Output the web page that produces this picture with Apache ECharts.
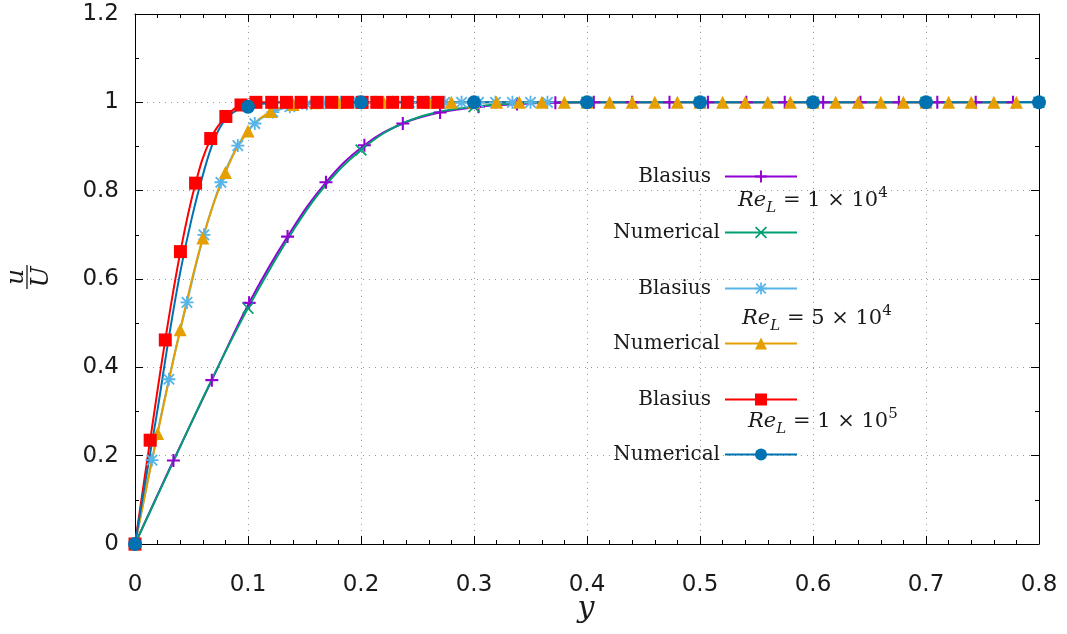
<!DOCTYPE html>
<html>
<head>
<meta charset="utf-8">
<script src="https://cdn.jsdelivr.net/npm/echarts@6/dist/echarts.min.js"></script>
<style>
html, body { margin: 0; padding: 0; background: #fff; }
#chart { width: 1067px; height: 634px; }
</style>
</head>
<body>
<div id="chart"></div>
<script>
// values: y (distance) and u/U

// Blasius, Re_L = 1e4
var blasius1X = [0, 0.034, 0.068, 0.101, 0.135, 0.169, 0.203, 0.237, 0.270, 0.304, 0.338, 0.372,
                 0.406, 0.440, 0.473, 0.507, 0.541, 0.575, 0.609, 0.642, 0.676, 0.710, 0.744, 0.777];
var blasius1Y = [0, 0.189, 0.371, 0.546, 0.696, 0.819, 0.903, 0.952, 0.977, 0.990, 0.996, 0.999,
                 1, 1, 1, 1, 1, 1, 1, 1, 1, 1, 1, 1];

// Numerical, Re_L = 1e4
var numeric1X = [0, 0.02, 0.04, 0.06, 0.08, 0.1, 0.12, 0.14, 0.16, 0.18, 0.2, 0.22, 0.24, 0.26,
                 0.28, 0.3, 0.32, 0.34, 0.36, 0.4, 0.5, 0.6, 0.7, 0.8];
var numeric1Y = [0, 0.11, 0.22, 0.33, 0.435, 0.534, 0.625, 0.71, 0.785, 0.845, 0.892, 0.93, 0.956, 0.973,
                 0.984, 0.99, 0.995, 0.998, 0.999, 1, 1, 1, 1, 1];

// Blasius, Re_L = 5e4
var blasius5X = [0, 0.015, 0.030, 0.046, 0.061, 0.076, 0.091, 0.106, 0.122, 0.137, 0.152, 0.167, 0.182,
                 0.198, 0.213, 0.228, 0.243, 0.258, 0.274, 0.289, 0.304, 0.319, 0.334, 0.350, 0.365];
var blasius5Y = [0, 0.19, 0.373, 0.547, 0.70, 0.819, 0.902, 0.952, 0.978, 0.99, 0.996, 0.999, 1,
                 1, 1, 1, 1, 1, 1, 1, 1, 1, 1, 1, 1];

// Numerical, Re_L = 5e4
var numeric5X = [0, 0.02, 0.04, 0.06, 0.08, 0.1, 0.12, 0.14, 0.16, 0.18, 0.2, 0.22, 0.24, 0.26, 0.28,
                 0.3, 0.32, 0.34, 0.36, 0.38, 0.4, 0.42, 0.44, 0.46, 0.48, 0.5, 0.52, 0.54, 0.56, 0.58,
                 0.6, 0.62, 0.64, 0.66, 0.68, 0.7, 0.72, 0.74, 0.76, 0.78];
var numeric5Y = [0, 0.25, 0.485, 0.693, 0.841, 0.935, 0.979, 0.995, 0.999, 1, 1, 1, 1, 1, 1,
                 1, 1, 1, 1, 1, 1, 1, 1, 1, 1, 1, 1, 1, 1, 1,
                 1, 1, 1, 1, 1, 1, 1, 1, 1, 1];

// Blasius, Re_L = 1e5
var blasius10X = [0, 0.0134, 0.0268, 0.0402, 0.0536, 0.067, 0.0804, 0.0938, 0.107, 0.121, 0.134,
                  0.147, 0.161, 0.174, 0.188, 0.201, 0.214, 0.228, 0.241, 0.255, 0.268];
var blasius10Y = [0, 0.235, 0.462, 0.662, 0.817, 0.918, 0.968, 0.994, 1, 1, 1,
                  1, 1, 1, 1, 1, 1, 1, 1, 1, 1];

// Numerical, Re_L = 1e5
var numeric10X = [0, 0.01, 0.02, 0.03, 0.04, 0.05, 0.06, 0.07, 0.08, 0.09, 0.1, 0.11, 0.12, 0.13,
                  0.15, 0.2, 0.3, 0.4, 0.5, 0.6, 0.7, 0.8];
var numeric10Y = [0, 0.154, 0.305, 0.468, 0.615, 0.735, 0.835, 0.915, 0.962, 0.982, 0.99, 0.996, 0.998, 1,
                  1, 1, 1, 1, 1, 1, 1, 1];

// points of the numerical curves that carry a marker
var numericMarkX = [0, 0.1, 0.2, 0.3, 0.4, 0.5, 0.6, 0.7, 0.8];

var legendTexts = ['Blasius', 'Numerical', 'Blasius', 'Numerical', 'Blasius', 'Numerical'];
var reMantissa = ['1', '5', '1'];
var reExponent = ['4', '4', '5'];

var PLUS = 'path://M0,4.2H10V5.8H0ZM4.2,0H5.8V10H4.2Z';
var CROSS = 'path://M0,1L1,0L10,9L9,10ZM9,0L10,1L1,10L0,9Z';
var STAR = 'path://M0,4.3H10V5.7H0ZM4.3,0H5.7V10H4.3ZM0.5,1.5L1.5,0.5L9.5,8.5L8.5,9.5ZM8.5,0.5L9.5,1.5L1.5,9.5L0.5,8.5Z';

var serif = 'DejaVu Serif';
var textColor = '#1a1a1a';

function makeData(xs, ys, marks) {
    return xs.map(function (x, i) {
        var item = { value: [x, ys[i]] };
        if (marks && marks.indexOf(x) < 0) item.symbol = 'none';
        return item;
    });
}

function curve(name, color, symbol, size, xs, ys, marks) {
    return {
        name: name,
        type: 'line',
        data: makeData(xs, ys, marks),
        smooth: 0.4,
        symbol: symbol,
        symbolSize: size,
        showAllSymbol: true,
        clip: false,
        lineStyle: { color: color, width: 2 },
        itemStyle: { color: color, borderWidth: 0 },
        emphasis: { disabled: true }
    };
}

var series = [
    curve('Blasius 1e4', '#9400d3', PLUS, 13, blasius1X, blasius1Y),
    curve('Numerical 1e4', '#009e73', CROSS, 12, numeric1X, numeric1Y, numericMarkX),
    curve('Blasius 5e4', '#56b4e9', STAR, 13, blasius5X, blasius5Y),
    curve('Numerical 5e4', '#e69f00', 'triangle', 13, numeric5X, numeric5Y),
    curve('Blasius 1e5', '#ff0000', 'rect', 13, blasius10X, blasius10Y),
    curve('Numerical 1e5', '#0072b2', 'circle', 14, numeric10X, numeric10Y, numericMarkX)
];

var legendRows = [174, 230, 286, 341, 397, 452];
var legends = series.map(function (s, i) {
    return {
        data: [s.name],
        formatter: legendTexts[i],
        right: 269,
        top: legendRows[i] - 7.5,
        align: 'right',
        padding: 0,
        itemWidth: 72,
        itemHeight: 15,
        selectedMode: false,
        textStyle: {
            fontFamily: serif, fontSize: 20, color: textColor, lineHeight: 15,
            padding: [0, i % 2 ? 0 : 9, 0, 0]
        }
    };
});

var reRows = [{ x: 738, y: 201 }, { x: 742, y: 319 }, { x: 748, y: 422 }];
var reRich = {
    i: { fontFamily: serif, fontStyle: 'italic', fontSize: 21, lineHeight: 30, fill: textColor },
    s: { fontFamily: serif, fontStyle: 'italic', fontSize: 15, lineHeight: 19, verticalAlign: 'bottom', fill: textColor },
    n: { fontFamily: serif, fontSize: 21, lineHeight: 30, fill: textColor },
    p: { fontFamily: serif, fontSize: 15, lineHeight: 23, verticalAlign: 'top', fill: textColor }
};
var graphics = reRows.map(function (r, i) {
    return {
        type: 'text', x: r.x, y: r.y, z: 100,
        style: {
            text: '{i|Re}{s|L}{n| = ' + reMantissa[i] + ' × 10}{p|' + reExponent[i] + '}',
            rich: reRich, verticalAlign: 'middle', fontFamily: serif, fontSize: 21
        }
    };
});
graphics.push({
    type: 'text', x: 586, y: 609,
    style: { text: 'y', fontFamily: serif, fontStyle: 'italic', fontSize: 30, fill: textColor,
             align: 'center', verticalAlign: 'middle' }
});
graphics.push({
    type: 'group', x: 27, y: 277, rotation: Math.PI / 2,
    children: [
        { type: 'text', x: 0, y: -11, style: { text: 'u', fontFamily: serif, fontStyle: 'italic', fontSize: 25,
          fill: textColor, align: 'center', verticalAlign: 'middle' } },
        { type: 'line', shape: { x1: -12, y1: 0, x2: 12, y2: 0 }, style: { stroke: textColor, lineWidth: 1.3 } },
        { type: 'text', x: 0, y: 14, style: { text: 'U', fontFamily: serif, fontStyle: 'italic', fontSize: 25,
          fill: textColor, align: 'center', verticalAlign: 'middle' } }
    ]
});

function axisCommon(min, max, interval, minorSplit, position, labels, margin) {
    return {
        type: 'value', min: min, max: max, interval: interval, position: position,
        axisLine: { show: true, onZero: false, lineStyle: { color: '#000', width: 1 } },
        axisTick: { show: true, inside: true, length: 8, lineStyle: { color: '#000' } },
        minorTick: { show: true, splitNumber: minorSplit, length: 4, lineStyle: { color: '#000' } },
        axisLabel: { show: labels, color: textColor, fontSize: 23, fontFamily: 'DejaVu Sans', margin: margin },
        splitLine: { show: labels, lineStyle: { color: '#999', width: 1, type: [1, 5] } }
    };
}

var chart = echarts.init(document.getElementById('chart'));
chart.setOption({
    animation: false,
    backgroundColor: '#fff',
    grid: { left: 135, right: 28, top: 14, bottom: 90 },
    xAxis: [axisCommon(0, 0.8, 0.1, 5, 'bottom', true, 30), axisCommon(0, 0.8, 0.1, 5, 'top', false, 0)],
    yAxis: [axisCommon(0, 1.2, 0.2, 2, 'left', true, 16), axisCommon(0, 1.2, 0.2, 2, 'right', false, 0)],
    legend: legends,
    graphic: graphics,
    series: series
});
</script>
</body>
</html>
